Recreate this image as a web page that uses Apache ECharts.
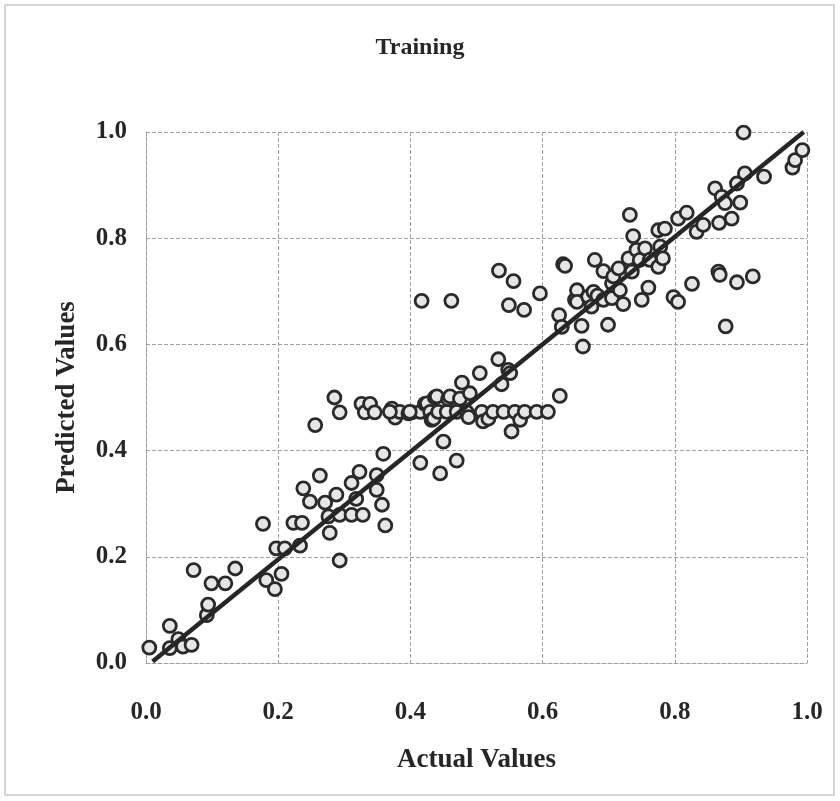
<!DOCTYPE html>
<html>
<head>
<meta charset="utf-8">
<script src="https://cdn.jsdelivr.net/npm/echarts@6/dist/echarts.min.js"></script>
<style>
html,body{margin:0;padding:0;background:#fff;}
#chart{width:840px;height:801px;}
</style>
</head>
<body>
<div id="chart"></div>
<script>
const titleText = "Training";
const xAxisName = "Actual Values";
const yAxisName = "Predicted Values";
const tickValues = [0.0, 0.2, 0.4, 0.6, 0.8, 1.0];

const actual = [
0.005,0.036,0.036,0.049,0.056,0.069,0.072,0.092,0.094,0.099,
0.120,0.135,0.177,0.182,0.195,0.205,0.197,0.210,0.233,0.223,
0.236,0.238,0.248,0.256,0.263,0.271,0.276,0.278,0.285,0.288,
0.293,0.293,0.293,0.311,0.311,0.318,0.323,0.326,0.328,0.331,
0.339,0.346,0.349,0.349,0.357,0.359,0.362,0.372,0.377,0.384,
0.397,0.402,0.415,0.415,0.417,0.422,0.425,0.430,0.432,0.435,
0.437,0.440,0.442,0.445,0.450,0.455,0.457,0.460,0.462,0.470,
0.470,0.475,0.478,0.485,0.488,0.490,0.505,0.508,0.510,0.518,
0.525,0.533,0.534,0.538,0.541,0.548,0.549,0.551,0.553,0.556,
0.558,0.566,0.572,0.573,0.591,0.596,0.608,0.625,0.626,0.629,
0.631,0.634,0.649,0.652,0.652,0.659,0.661,0.669,0.674,0.677,
0.679,0.683,0.692,0.692,0.699,0.705,0.705,0.707,0.715,0.717,
0.722,0.730,0.732,0.735,0.737,0.742,0.747,0.750,0.755,0.760,
0.762,0.775,0.775,0.778,0.782,0.785,0.798,0.805,0.805,0.818,
0.826,0.833,0.843,0.861,0.866,0.867,0.868,0.871,0.876,0.877,
0.886,0.894,0.894,0.899,0.904,0.906,0.918,0.935,0.978,0.982,
0.993,0.369,0.399
];
const predicted = [
0.029,0.070,0.028,0.045,0.031,0.034,0.175,0.090,0.110,0.150,
0.150,0.178,0.262,0.156,0.139,0.168,0.216,0.216,0.221,0.264,
0.264,0.329,0.304,0.448,0.353,0.302,0.276,0.245,0.500,0.317,
0.472,0.279,0.193,0.339,0.279,0.309,0.360,0.488,0.279,0.472,
0.488,0.472,0.354,0.326,0.298,0.394,0.259,0.479,0.462,0.473,
0.470,0.472,0.473,0.377,0.682,0.488,0.489,0.473,0.458,0.460,
0.500,0.502,0.473,0.357,0.417,0.473,0.497,0.502,0.682,0.473,
0.381,0.498,0.528,0.473,0.463,0.508,0.546,0.473,0.455,0.460,
0.473,0.572,0.739,0.525,0.473,0.552,0.674,0.546,0.436,0.719,
0.473,0.458,0.665,0.473,0.473,0.696,0.473,0.655,0.503,0.633,
0.751,0.748,0.684,0.702,0.680,0.635,0.596,0.690,0.671,0.699,
0.759,0.692,0.738,0.684,0.637,0.715,0.687,0.728,0.743,0.702,
0.676,0.762,0.844,0.737,0.804,0.778,0.759,0.684,0.781,0.707,
0.759,0.746,0.815,0.784,0.762,0.818,0.689,0.680,0.837,0.848,
0.714,0.812,0.825,0.894,0.737,0.829,0.731,0.878,0.866,0.634,
0.837,0.903,0.717,0.867,0.999,0.922,0.728,0.916,0.933,0.947,
0.966,0.473,0.473
];
const fitX = [0.010, 0.995];
const fitY = [0.003, 1.000];

const points = actual.map((v, i) => [v, predicted[i]]);
const fitLine = fitX.map((v, i) => [v, fitY[i]]);

const chart = echarts.init(document.getElementById('chart'), null, {renderer: 'canvas'});
const serif = '"Liberation Serif", "Times New Roman", serif';
const gridColor = '#a0a0a0';
const textColor = '#262626';

chart.setOption({
  backgroundColor: '#ffffff',
  animation: false,
  title: {
    text: titleText,
    left: 'center',
    top: 31,
    textStyle: {fontFamily: serif, fontWeight: 'bold', fontSize: 24, color: textColor}
  },
  graphic: [{
    type: 'rect',
    shape: {x: 5, y: 5, width: 829, height: 790},
    style: {fill: 'none', stroke: '#c8c8c8', lineWidth: 1.5},
    silent: true
  }],
  grid: {left: 146, right: 33, top: 132, bottom: 138, containLabel: false},
  xAxis: {
    type: 'value', min: 0, max: 1, interval: 0.2,
    name: xAxisName, nameLocation: 'middle', nameGap: 84,
    nameTextStyle: {fontFamily: serif, fontWeight: 'bold', fontSize: 27, color: textColor},
    axisLine: {show: true, lineStyle: {color: gridColor, type: 'dashed', width: 1}},
    axisTick: {show: false},
    axisLabel: {margin: 37, fontFamily: serif, fontWeight: 'bold', fontSize: 25, color: textColor,
      formatter: v => v.toFixed(1)},
    splitLine: {show: true, showMinLine: true, showMaxLine: true, lineStyle: {color: gridColor, type: 'dashed', width: 1}}
  },
  yAxis: {
    type: 'value', min: 0, max: 1, interval: 0.2,
    name: yAxisName, nameLocation: 'middle', nameGap: 65, nameRotate: 90,
    nameTextStyle: {fontFamily: serif, fontWeight: 'bold', fontSize: 27, color: textColor},
    axisLine: {show: true, lineStyle: {color: gridColor, type: 'dashed', width: 1}},
    axisTick: {show: false},
    axisLabel: {margin: 19, fontFamily: serif, fontWeight: 'bold', fontSize: 25, color: textColor,
      formatter: v => v.toFixed(1)},
    splitLine: {show: true, showMinLine: true, showMaxLine: true, lineStyle: {color: gridColor, type: 'dashed', width: 1}}
  },
  series: [
    {
      type: 'scatter',
      data: points,
      symbol: 'circle',
      symbolSize: 13,
      itemStyle: {color: '#e6e6e6', borderColor: '#2a2a2a', borderWidth: 2.8, opacity: 1},
      z: 2
    },
    {
      type: 'line',
      data: fitLine,
      showSymbol: false,
      symbol: 'none',
      lineStyle: {color: '#262626', width: 4.5},
      z: 3
    }
  ]
});
</script>
</body>
</html>
